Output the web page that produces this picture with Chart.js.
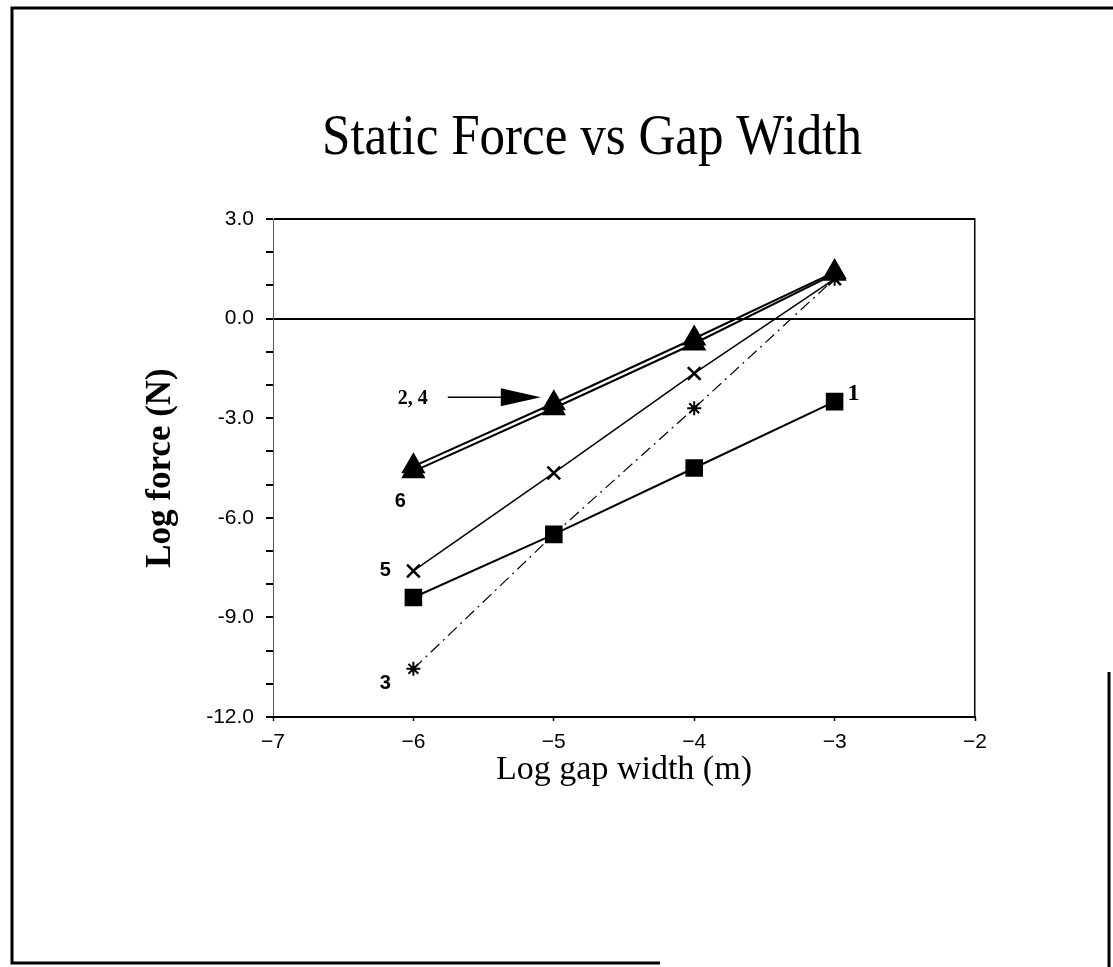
<!DOCTYPE html>
<html>
<head>
<meta charset="utf-8">
<title>Static Force vs Gap Width</title>
<script src="https://cdn.jsdelivr.net/npm/chart.js@4.4.0/dist/chart.umd.min.js"></script>
<style>
  html, body { margin: 0; padding: 0; background: #fff; }
  #wrap { width: 1113px; height: 967px; position: relative; }
</style>
</head>
<body>
<div id="wrap"><canvas id="chart-force"></canvas></div>
<script>
// log gap width (m) and log force (N) for each run
var gapWidth = [-6, -5, -4, -3];
var force1 = [-8.4, -6.5, -4.5, -2.5];
var force24 = [-4.45, -2.55, -0.6, 1.4];
var force6 = [-4.6, -2.7, -0.75, 1.35];
var force5 = [-7.6, -4.65, -1.65, 1.2];
var force3 = [-10.55, -6.5, -2.7, 1.2];
var yLabelEvery = 3;   // labelled ticks: 3.0, 0.0, -3.0 ...
var xTickLabels = ['−7', '−6', '−5', '−4', '−3', '−2'];
var chartTitle = 'Static Force vs Gap Width';

function pts(ys) {
    return gapWidth.map(function(x, i) { return { x: x, y: ys[i] }; });
}

// page border, title (narrow serif), run labels and arrow
var decorations = {
    id: 'decorations',
    beforeDraw: function(chart) {
        var c = chart.ctx;
        c.save();
        c.fillStyle = '#fff';
        c.fillRect(0, 0, chart.width, chart.height);
        c.strokeStyle = '#000';
        c.lineWidth = 3;
        c.beginPath();
        c.moveTo(1113, 8); c.lineTo(12, 8); c.lineTo(12, 963); c.lineTo(660, 963);
        c.moveTo(1109, 672); c.lineTo(1109, 967);
        c.stroke();

        // title squeezed horizontally
        c.font = '58px "Liberation Serif"';
        c.fillStyle = '#000';
        c.textAlign = 'center';
        c.textBaseline = 'alphabetic';
        var w = c.measureText(chartTitle).width;
        c.translate(592, 154);
        c.scale(540 / w, 1);
        c.fillText(chartTitle, 0, 0);
        c.restore();
    },
    afterDraw: function(chart) {
        var c = chart.ctx;
        var xs = chart.scales.x, ys = chart.scales.y;
        function px(x) { return xs.getPixelForValue(x); }
        function py(y) { return ys.getPixelForValue(y); }
        c.save();
        c.fillStyle = '#000';
        c.strokeStyle = '#000';
        c.textBaseline = 'middle';

        // "2, 4" with arrow pointing at the upper pair of lines
        var ax = px(gapWidth[1]), ay = py(force24[1]);
        c.font = 'bold 20px "Liberation Serif"';
        c.textAlign = 'right';
        c.fillText('2, 4', ax - 126, ay - 4);
        c.lineWidth = 1.5;
        c.beginPath();
        c.moveTo(ax - 106, ay - 6);
        c.lineTo(ax - 50, ay - 6);
        c.stroke();
        c.beginPath();
        c.moveTo(ax - 53, ay - 15);
        c.lineTo(ax - 13, ay - 6);
        c.lineTo(ax - 53, ay + 3);
        c.closePath();
        c.fill();

        c.font = 'bold 20px "Liberation Sans"';
        c.textAlign = 'center';
        c.fillText('6', px(gapWidth[0]) - 13, py(force6[0]) + 30);
        c.fillText('5', px(gapWidth[0]) - 28, py(force5[0]));
        c.fillText('3', px(gapWidth[0]) - 28, py(force3[0]) + 15);

        c.font = 'bold 24px "Liberation Serif"';
        c.fillText('1', px(gapWidth[3]) + 19, py(force1[3]) - 8);
        c.restore();
    }
};

var data = {
    datasets: [{
        label: '1',
        data: pts(force1),
        borderColor: '#000',
        backgroundColor: '#000',
        borderWidth: 2,
        pointStyle: 'rect',
        pointRadius: 11,
        pointHoverRadius: 11
    }, {
        label: '2, 4',
        data: pts(force24),
        borderColor: '#000',
        backgroundColor: '#000',
        borderWidth: 2,
        pointStyle: 'triangle',
        pointRadius: 12,
        pointHoverRadius: 12
    }, {
        label: '6',
        data: pts(force6),
        borderColor: '#000',
        backgroundColor: '#000',
        borderWidth: 2,
        pointStyle: 'triangle',
        pointRadius: 12,
        pointHoverRadius: 12
    }, {
        label: '5',
        data: pts(force5),
        borderColor: '#000',
        backgroundColor: '#000',
        borderWidth: 1.5,
        pointStyle: 'crossRot',
        pointRadius: 9,
        pointBorderWidth: 2.5,
        pointHoverRadius: 9
    }, {
        label: '3',
        data: pts(force3),
        borderColor: '#000',
        backgroundColor: '#000',
        borderWidth: 1.2,
        borderDash: [12, 5, 2, 5],
        pointStyle: 'star',
        pointRadius: 7,
        pointBorderWidth: 2,
        pointHoverRadius: 7
    }]
};

var chartOptions = {
    responsive: true,
    maintainAspectRatio: false,
    devicePixelRatio: 1,
    animation: false,
    layout: { padding: { left: 0, right: 0, top: 219, bottom: 177 } },
    plugins: {
        legend: { display: false },
        tooltip: { enabled: false },
        title: { display: false }
    },
    scales: {
        x: {
            type: 'linear',
            position: 'bottom',
            min: -7,
            max: -2,
            ticks: {
                stepSize: 1,
                color: '#000',
                padding: 9,
                font: { family: '"Liberation Sans"', size: 21 },
                callback: function(v, i) { return xTickLabels[i]; }
            },
            grid: { drawOnChartArea: false, tickLength: 4, tickColor: '#000', tickWidth: 1.5 },
            border: { color: '#000', width: 2 },
            title: {
                display: true,
                text: 'Log gap width (m)',
                color: '#000',
                font: { family: '"Liberation Serif"', size: 34 },
                padding: { top: 0, bottom: 0 }
            },
            afterFit: function(s) { s.height = 73; }
        },
        y: {
            type: 'linear',
            position: 'left',
            min: -12,
            max: 3,
            ticks: {
                stepSize: 1,
                autoSkip: false,
                color: '#000',
                padding: 12,
                font: { family: '"Liberation Sans"', size: 21 },
                callback: function(v) {
                    if (v % yLabelEvery !== 0) return '';
                    return (v < 0 ? '-' : '') + Math.abs(v).toFixed(1);
                }
            },
            grid: {
                drawOnChartArea: true,
                color: function(ctx) {
                    var v = ctx.tick && ctx.tick.value;
                    return (v === 0 || v === 3) ? '#000' : 'rgba(0,0,0,0)';
                },
                lineWidth: 2,
                tickLength: 7,
                tickColor: '#000',
                tickWidth: 2
            },
            border: { color: 'rgba(0,0,0,0.65)', width: 1 },
            title: {
                display: true,
                text: 'Log force (N)',
                color: '#000',
                font: { family: '"Liberation Serif"', size: 35, weight: 'bold' },
                padding: { top: 140, bottom: 0 }
            },
            afterFit: function(s) { s.width = 273; }
        },
        yRight: {
            type: 'linear',
            position: 'right',
            min: -12,
            max: 3,
            ticks: { display: false },
            grid: { display: false },
            border: { color: '#000', width: 1.5, dash: [12, 4, 2, 4] },
            afterFit: function(s) { s.width = 138; }
        }
    }
};

document.addEventListener("DOMContentLoaded", function() {
    var ctx = document.getElementById("chart-force").getContext('2d');
    new Chart(ctx, {
        type: 'line',
        data: data,
        options: chartOptions,
        plugins: [decorations]
    });
});
</script>
</body>
</html>
